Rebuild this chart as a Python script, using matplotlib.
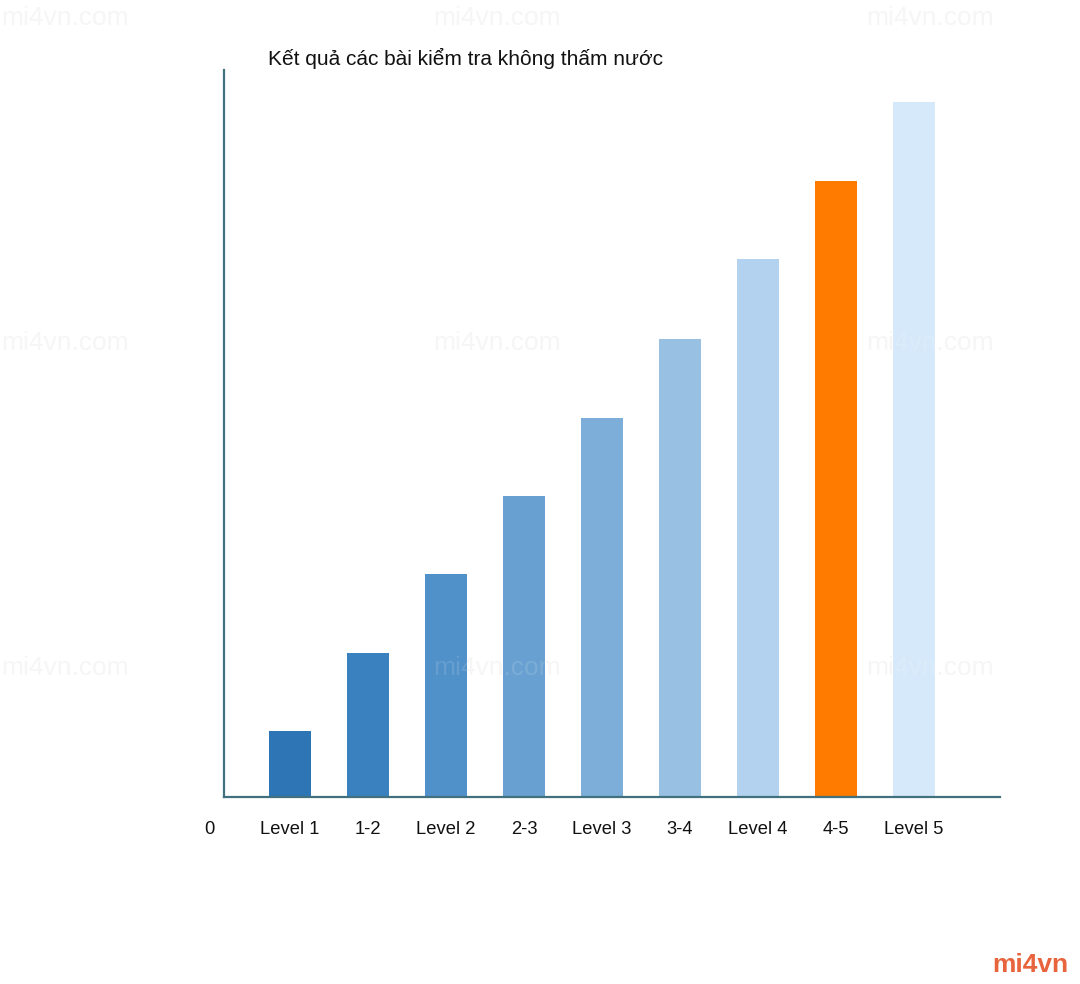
import matplotlib
matplotlib.use("Agg")
import matplotlib.pyplot as plt

# Chart data
labels = ["Level 1", "1-2", "Level 2", "2-3", "Level 3", "3-4", "Level 4", "4-5", "Level 5"]
values = [0.85, 1.85, 2.86, 3.86, 4.87, 5.88, 6.91, 7.91, 8.92]
colors = ["#2e75b6", "#3a81c0", "#5091c9", "#68a1d1", "#7daed9", "#97c0e3", "#b2d2ef", "#ff7b00", "#d6e9fa"]
title = "Kết quả các bài kiểm tra không thấm nước"

plt.rcParams["font.family"] = ["Liberation Sans", "DejaVu Sans"]
axis_color = "#41707f"

fig = plt.figure(figsize=(10.8, 9.84), dpi=100)
fig.patch.set_facecolor("white")

# faint watermarks: grey behind the chart, a whisper of white over the bars
for wy in [0.982, 0.651, 0.321]:
    for wx in [0.06, 0.46, 0.861]:
        fig.text(wx, wy, "mi4vn.com", fontsize=19, color="#f5f5f5", ha="center", va="center", zorder=-5)
        fig.text(wx, wy, "mi4vn.com", fontsize=19, color="white", alpha=0.12, ha="center", va="center", zorder=5)

ax = fig.add_axes([0.2074, 0.19, 0.7185, 0.7388])
ax.set_facecolor("none")

xs = list(range(len(values)))
ax.bar(xs, values, width=0.538, color=colors, zorder=2)

ax.set_xlim(-0.846, 9.103)
ax.set_ylim(0, 9.33)

for side in ["top", "right"]:
    ax.spines[side].set_visible(False)
for side in ["left", "bottom"]:
    ax.spines[side].set_color(axis_color)
    ax.spines[side].set_linewidth(1.6)

ax.set_yticks([])
ax.set_xticks(xs)
ax.set_xticklabels(labels, fontsize=13.2, color="#111111")
ax.tick_params(axis="x", length=0, pad=17.5)

# the lone "0" under the origin
ax.text(-1.03, -0.42, "0", fontsize=13.2, color="#111111", ha="center", va="center", clip_on=False)

fig.text(268 / 1080, 1 - 58 / 984, title, fontsize=15, color="#111111", ha="left", va="center")

# logo bottom right
fig.text(1030 / 1080, 1 - 965 / 984, "mi4vn", fontsize=19, fontweight="bold", color="#e8643c",
         ha="center", va="center")

fig.savefig("out.png", dpi=100)
